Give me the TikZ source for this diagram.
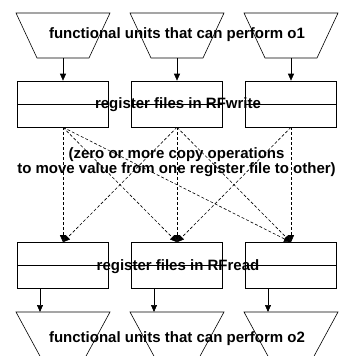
\documentclass[tikz,border=0pt]{standalone}
\usepackage{fontspec}
\setmainfont{Liberation Sans}
\usetikzlibrary{arrows.meta}

\tikzset{
	regbox/.style={draw, line width=.6pt, minimum width=91pt, minimum height=46pt, inner sep=0pt},
	unitlabel/.style={font=\fontsize{15}{15}\selectfont\bfseries, anchor=base, inner sep=0pt},
	feed/.style={-{Triangle[length=7pt,width=6pt]}, line width=.6pt},
	copyop/.style={-{Triangle[length=7pt,width=6pt]}, line width=.6pt, dash pattern=on 3pt off 2pt},
}

\begin{document}
\begin{tikzpicture}[x=1pt,y=-1pt]
	\useasboundingbox (0,0) rectangle (339,356);
	\foreach \x/\n in {63/1,177/2,291/3} {
		\draw[line width=.6pt] (\x-47,13) -- (\x+47,13) -- (\x+26,58) -- (\x-26,58) -- cycle;
		\coordinate (fa\n) at (\x,58);
		\node[regbox] (w\n) at (\x,104) {};
		\draw[line width=.6pt] (w\n.west) -- (w\n.east);
		\node[regbox] (r\n) at (\x,265.5) {};
		\draw[line width=.6pt] (r\n.west) -- (r\n.east);
		\draw[line width=.6pt] (\x-47,312) -- (\x+47,312) -- (\x+22,358) -- (\x-22,358) -- cycle;
		\coordinate (fb\n) at (\x-23,312);
		\draw[feed] (fa\n) -- (w\n);
		\draw[feed] ([xshift=-23pt]r\n.south) -- (fb\n);
	}
	\foreach \a/\b in {1/1,1/2,1/3,2/1,2/2,2/3,3/2,3/3} {
		\draw[copyop] (w\a.south) -- (r\b.north);
	}
	\node[unitlabel] (fu1) at (177,38) {functional units that can perform o1};
	\node[unitlabel] (rfw) at (178,108) {register files in RFwrite};
	\node[unitlabel, align=center] (copy) at (176.5,173) {(zero or more copy operations\\to move value from one register file to other)};
	\node[unitlabel] (rfr) at (178,270) {register files in RFread};
	\node[unitlabel] (fu2) at (177,342) {functional units that can perform o2};
\end{tikzpicture}
\end{document}
